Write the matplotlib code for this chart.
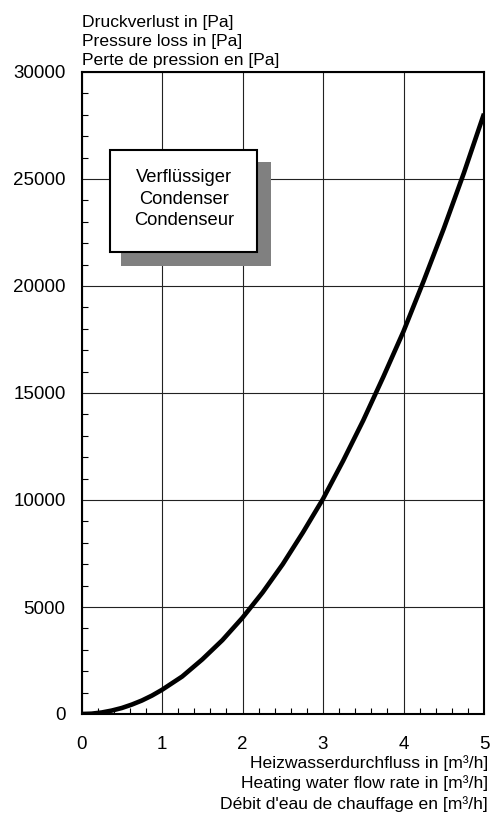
import matplotlib
matplotlib.use("Agg")
import matplotlib.pyplot as plt
from matplotlib.patches import Rectangle
from matplotlib.ticker import MultipleLocator

plt.rcParams['font.family'] = ['Liberation Sans', 'DejaVu Sans']

flow = [0.0, 0.125, 0.25, 0.375, 0.5, 0.625, 0.75, 0.875, 1.0, 1.25, 1.5, 1.75,
        2.0, 2.25, 2.5, 2.75, 3.0, 3.25, 3.5, 3.75, 4.0, 4.25, 4.5, 4.75, 5.0]
pressure = [0, 15, 70, 160, 280, 440, 630, 860, 1130, 1750, 2550, 3450,
            4500, 5680, 7000, 8480, 10050, 11830, 13720, 15760, 17880, 20230,
            22680, 25280, 28050]

x_ticks = [0, 1, 2, 3, 4, 5]
y_ticks = [0, 5000, 10000, 15000, 20000, 25000, 30000]
y_label_lines = ["Druckverlust in [Pa]", "Pressure loss in [Pa]", "Perte de pression en [Pa]"]
x_label_lines = ["Heizwasserdurchfluss in [m³/h]", "Heating water flow rate in [m³/h]",
                 "Débit d'eau de chauffage en [m³/h]"]
box_lines = ["Verflüssiger", "Condenser", "Condenseur"]

W, H = 492, 819
fig = plt.figure(figsize=(W / 100, H / 100), dpi=100)
L, R, T, B = 81.5, 484, 72, 714
ax = fig.add_axes([L / W, (H - B) / H, (R - L) / W, (B - T) / H])

ax.plot(flow, pressure, color='black', linewidth=3.3, solid_capstyle='butt',
        solid_joinstyle='round', zorder=3)
ax.set_xlim(0, 5)
ax.set_ylim(0, 30000)
ax.set_xticks(x_ticks)
ax.set_yticks(y_ticks)
ax.xaxis.set_minor_locator(MultipleLocator(0.2))
ax.yaxis.set_minor_locator(MultipleLocator(1000))
ax.tick_params(which='major', length=0, labelsize=13.5, colors='black')
ax.tick_params(axis='x', which='major', pad=16)
ax.tick_params(axis='y', which='major', pad=11.5)
ax.tick_params(which='minor', direction='in', length=4, width=0.8, color='black')
ax.grid(True, which='major', color='#222222', linewidth=0.8)
ax.set_axisbelow(True)
for s in ax.spines.values():
    s.set_linewidth(1.5)
    s.set_color('black')

fig.text(L / W, 1 - 68.5 / H, "\n".join(y_label_lines), ha='left', va='bottom',
         fontsize=12.6, linespacing=1.36)
fig.text(488 / W, 1 - 755 / H, "\n".join(x_label_lines), ha='right', va='top',
         fontsize=12.6, linespacing=1.36)

def fx(px):
    return (px - L) / (R - L)

def fy(py):
    return (B - py) / (B - T)

shadow = Rectangle((fx(121), fy(266)), fx(271) - fx(121), fy(162) - fy(266),
                   transform=ax.transAxes, facecolor='#808080', edgecolor='none', zorder=4)
box = Rectangle((fx(110), fy(252)), fx(257) - fx(110), fy(150) - fy(252),
                transform=ax.transAxes, facecolor='white', edgecolor='black',
                linewidth=1.5, zorder=5)
ax.add_patch(shadow)
ax.add_patch(box)
ax.text(fx(184), fy(199), "\n".join(box_lines), transform=ax.transAxes, ha='center',
        va='center', fontsize=13.2, linespacing=1.33, zorder=6)

fig.savefig("out.png", dpi=100)
